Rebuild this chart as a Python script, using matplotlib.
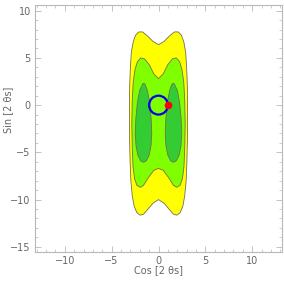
import matplotlib
matplotlib.use("Agg")
import matplotlib.pyplot as plt
from matplotlib.patches import Circle, Polygon
from matplotlib.ticker import MultipleLocator

# === Contour region outlines (data units) ===
yellow_x = [0.0, -0.6, -1.2, -1.7, -2.1, -2.45, -2.7, -2.9, -3.0, -3.08, -3.1, -3.1, -3.08, -3.03, -2.95, -2.8,
            -2.6, -2.3, -1.95, -1.6, -1.2, -0.6, 0.0, 0.6, 1.2, 1.6, 1.95, 2.3, 2.6, 2.8, 2.95, 3.03, 3.08, 3.1,
            3.1, 3.08, 3.0, 2.9, 2.7, 2.45, 2.1, 1.7, 1.2, 0.6]
yellow_y = [6.4, 6.75, 7.35, 7.75, 7.75, 7.4, 6.7, 5.6, 4.0, 2.0, 0.0, -2.0, -4.0, -6.0, -8.0, -9.6,
            -10.7, -11.4, -11.65, -11.55, -11.1, -10.4, -10.0, -10.4, -11.1, -11.55, -11.65, -11.4, -10.7, -9.6, -8.0, -6.0, -4.0, -2.0,
            0.0, 2.0, 4.0, 5.6, 6.7, 7.4, 7.75, 7.75, 7.35, 6.75]

lgreen_x = [0.0, -0.5, -1.0, -1.5, -1.9, -2.25, -2.5, -2.7, -2.8, -2.85, -2.8, -2.72, -2.55, -2.3, -1.95, -1.6,
            -1.1, -0.5, 0.0, 0.5, 1.1, 1.6, 1.95, 2.3, 2.55, 2.72, 2.8, 2.85, 2.8, 2.7, 2.5, 2.25, 1.9, 1.5, 1.0, 0.5]
lgreen_y = [2.8, 3.3, 4.3, 4.9, 5.0, 4.6, 3.8, 2.4, 0.5, -2.0, -4.5, -6.5, -7.8, -8.5, -8.7, -8.5,
            -7.7, -6.9, -6.7, -6.9, -7.7, -8.5, -8.7, -8.5, -7.8, -6.5, -4.5, -2.0, 0.5, 2.4, 3.8, 4.6, 5.0, 4.9, 4.3, 3.3]

dgreen_right_x = [1.65, 2.0, 2.25, 2.42, 2.48, 2.4, 2.2, 1.9, 1.6, 1.3, 1.0, 0.8, 0.72, 0.78, 0.95, 1.2, 1.45]
dgreen_right_y = [2.3, 1.6, 0.3, -1.5, -3.0, -4.3, -5.3, -5.9, -6.05, -5.9, -5.3, -4.3, -3.0, -1.5, 0.3, 1.6, 2.25]
dgreen_left_x = [-1.65, -2.0, -2.25, -2.42, -2.48, -2.4, -2.2, -1.9, -1.6, -1.3, -1.0, -0.8, -0.72, -0.78, -0.95, -1.2, -1.45]
dgreen_left_y = [2.3, 1.6, 0.3, -1.5, -3.0, -4.3, -5.3, -5.9, -6.05, -5.9, -5.3, -4.3, -3.0, -1.5, 0.3, 1.6, 2.25]

circle_center = (0.0, 0.0)
circle_radius = 1.0
point_x = [1.0]
point_y = [0.0]

x_limits = (-13.18, 13.18)
y_limits = (-15.55, 10.6)

regions = [
    (yellow_x, yellow_y, "#ffff00"),
    (lgreen_x, lgreen_y, "#80ff00"),
    (dgreen_left_x, dgreen_left_y, "#33cc33"),
    (dgreen_right_x, dgreen_right_y, "#33cc33"),
]

fig = plt.figure(figsize=(2.84, 2.84), dpi=100)
ax = fig.add_axes([35 / 284, 32 / 284, 247 / 284, 247 / 284])

for xs, ys, col in regions:
    ax.add_patch(Polygon(list(zip(xs, ys)), closed=True, facecolor=col,
                         edgecolor="#707050", linewidth=0.6, joinstyle="round"))

ax.add_patch(Circle(circle_center, circle_radius, fill=False, edgecolor="#0000ee", linewidth=1.6))
ax.plot(point_x, point_y, "o", color="#ff0000", markersize=5.5, markeredgewidth=0)

ax.set_xlim(*x_limits)
ax.set_ylim(*y_limits)

for s in ax.spines.values():
    s.set_color("#b8b8b8")
    s.set_linewidth(0.8)

ax.xaxis.set_major_locator(MultipleLocator(5))
ax.xaxis.set_minor_locator(MultipleLocator(1))
ax.yaxis.set_major_locator(MultipleLocator(5))
ax.yaxis.set_minor_locator(MultipleLocator(1))
ax.tick_params(which="both", direction="in", top=True, right=True, color="#b8b8b8",
               labelsize=7, labelcolor="#666666", pad=3)
ax.tick_params(which="major", length=4, width=0.6)
ax.tick_params(which="minor", length=2, width=0.5)

fig.text(159 / 284, 1 - 270 / 284, "Cos [2 θs]", ha="center", va="center", fontsize=7, color="#666666")
fig.text(8 / 284, 1 - 110 / 284, "Sin [2 θs]", ha="center", va="center", rotation=90, fontsize=7, color="#666666")

fig.savefig("out.png", dpi=100)
